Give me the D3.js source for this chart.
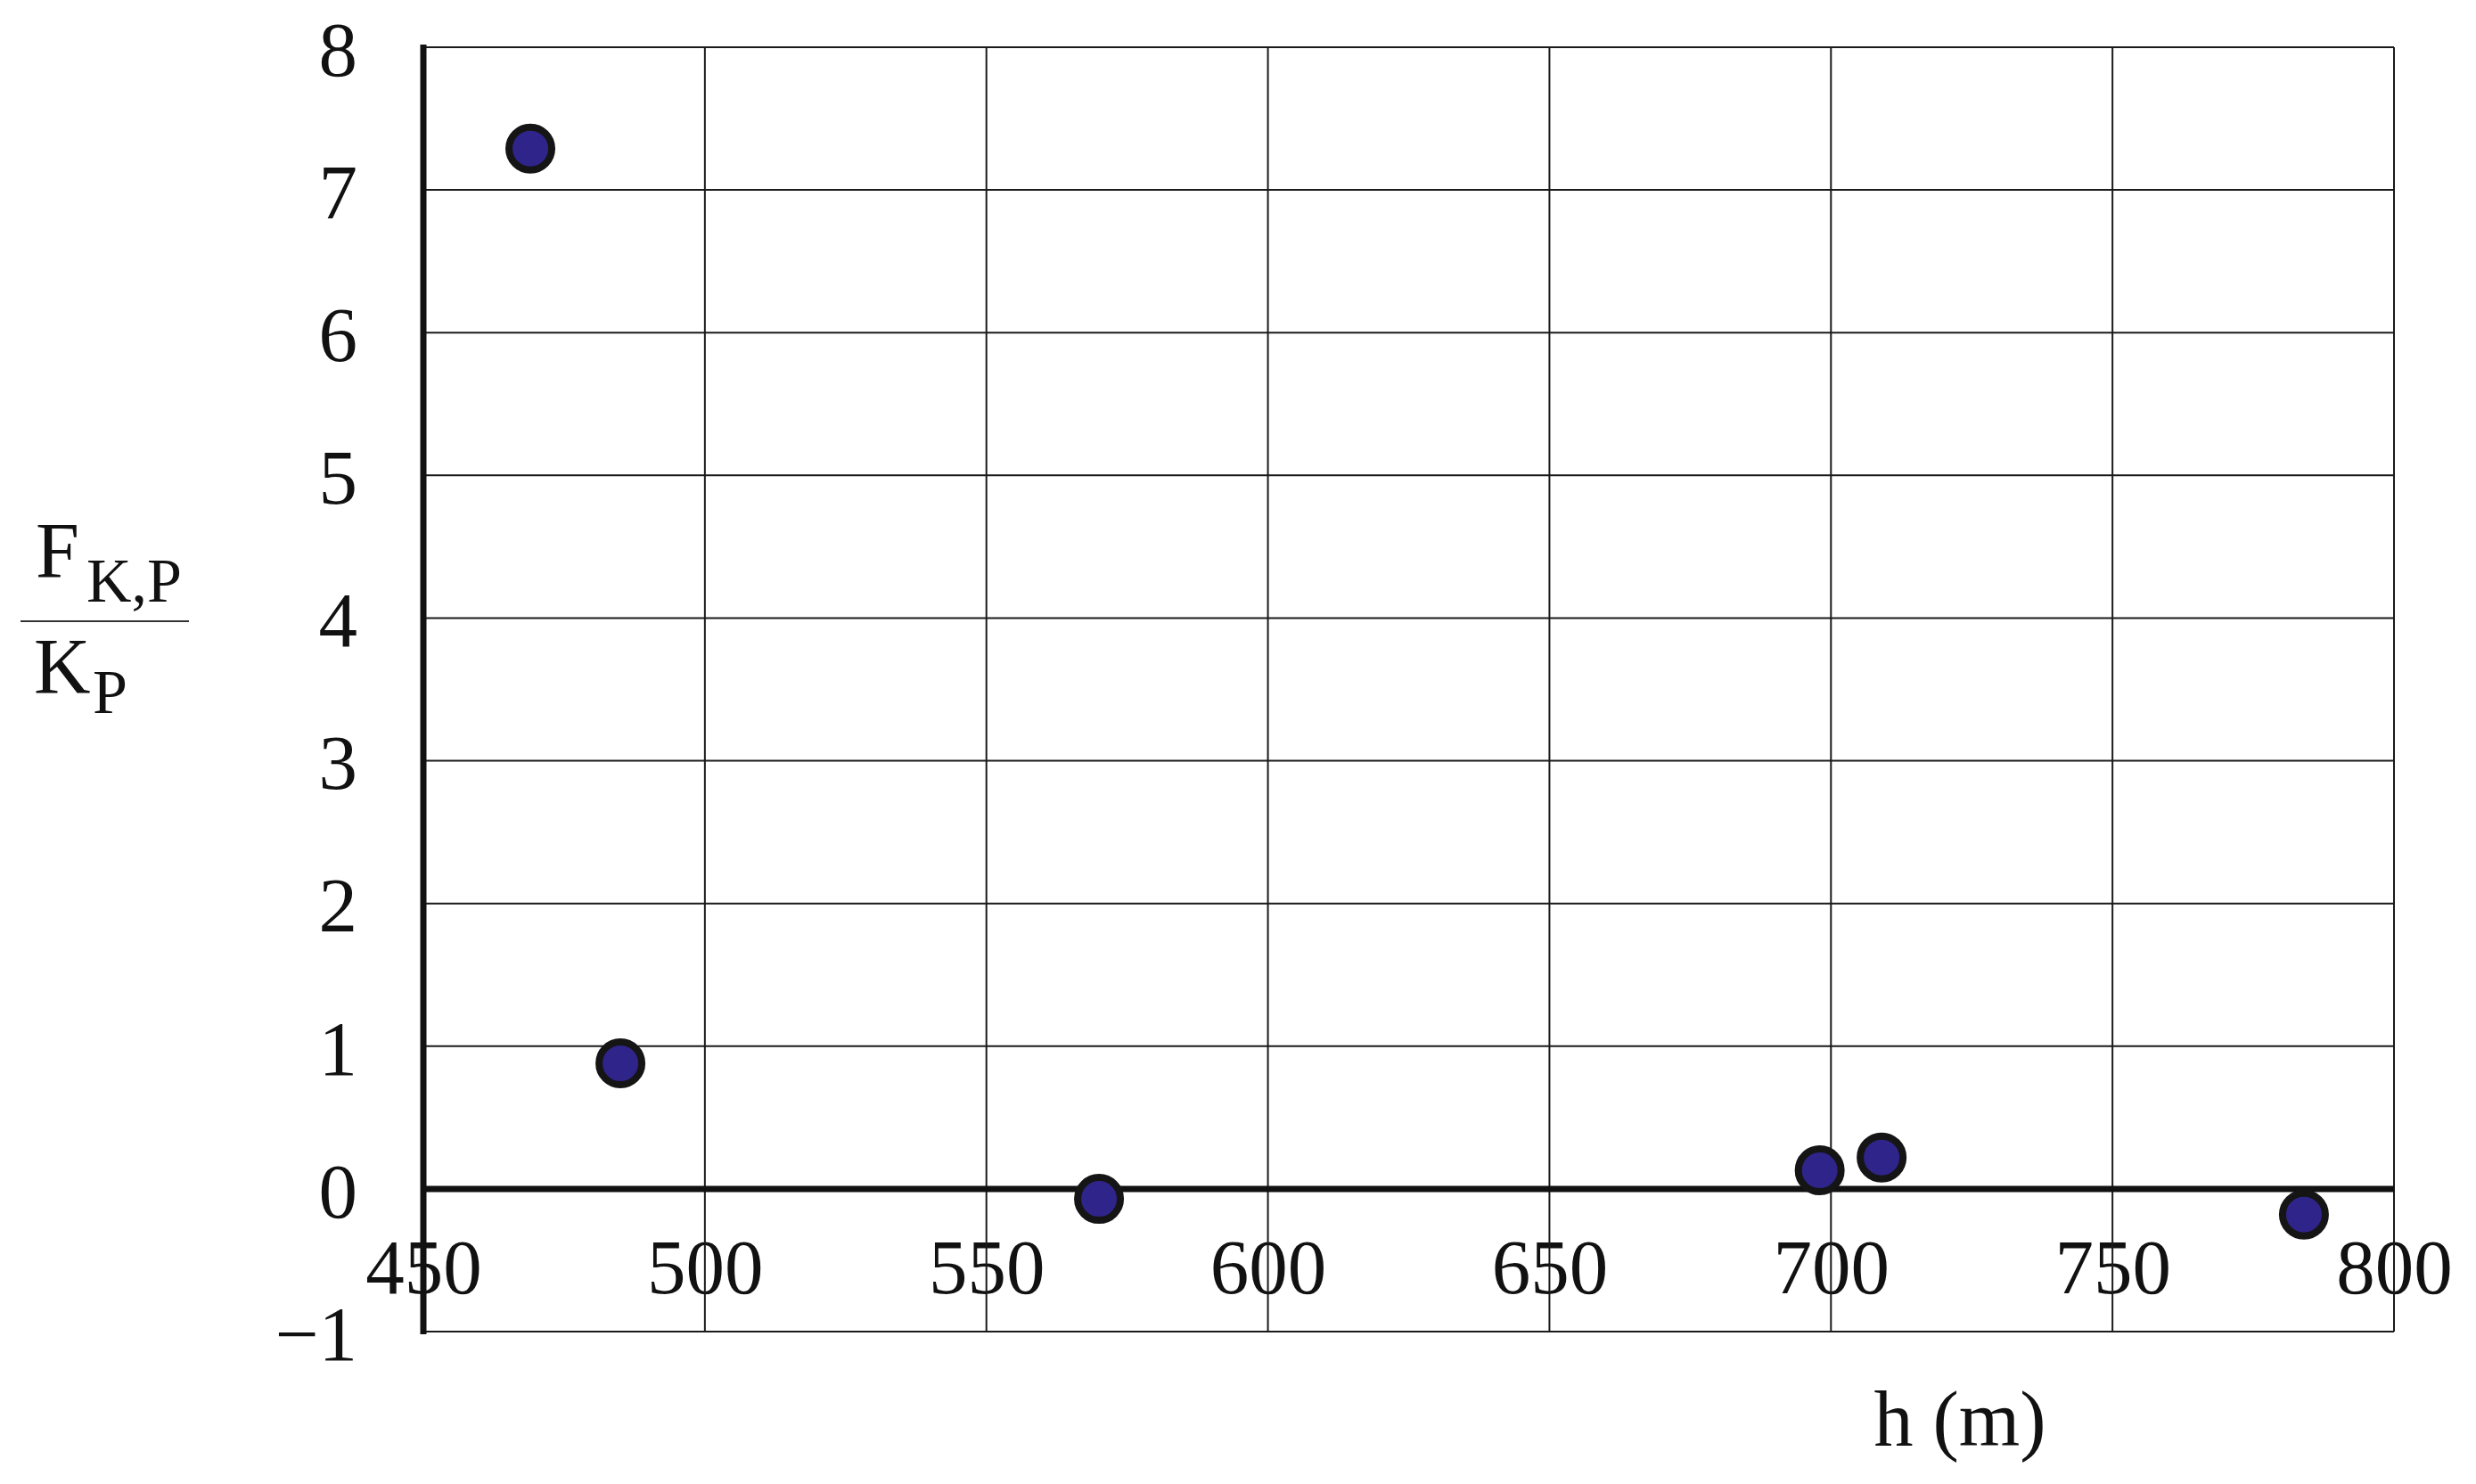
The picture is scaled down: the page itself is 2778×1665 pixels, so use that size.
<!DOCTYPE html>
<html>
<head>
<meta charset="utf-8">
<script src="https://cdn.jsdelivr.net/npm/d3@7"></script>
<style>
  body { margin: 0; background: #fff; }
  text { font-family: "Palatino Linotype", "Book Antiqua", Palatino, "Liberation Serif", "DejaVu Serif", serif; fill: #111; }
</style>
</head>
<body>
<div id="chart"></div>
<script>
// Data
const heights = [469, 485, 570, 698, 709, 784];          // h (m)
const ratios  = [7.29, 0.88, -0.07, 0.13, 0.22, -0.18];  // F_K,P / K_P
const xTicks = [450, 500, 550, 600, 650, 700, 750, 800];
const yTicks = [-1, 0, 1, 2, 3, 4, 5, 6, 7, 8];

const W = 2778, H = 1665;
const plot = { left: 475, right: 2686, top: 53, bottom: 1494 };

const svg = d3.select("#chart")
    .append("svg")
    .attr("width", W)
    .attr("height", H);

svg.append("rect").attr("width", W).attr("height", H).attr("fill", "#fff");

const x = d3.scaleLinear().domain([450, 800]).range([plot.left, plot.right]);
const y = d3.scaleLinear().domain([-1, 8]).range([plot.bottom, plot.top]);

// Tick labels first, grid lines are drawn over them
const xLabels = svg.append("g")
    .attr("transform", `translate(0,${y(0) + 117})`)
    .call(d3.axisBottom(x).tickValues(xTicks).tickSize(0).tickPadding(0));
xLabels.select(".domain").remove();
xLabels.selectAll("text")
    .attr("y", 0).attr("dy", 0)
    .style("font-size", "87px");

const yLabels = svg.append("g")
    .attr("transform", `translate(401,0)`)
    .call(d3.axisLeft(y).tickValues(yTicks).tickSize(0).tickPadding(0));
yLabels.select(".domain").remove();
yLabels.selectAll("text")
    .attr("dy", "0.36em")
    .style("font-size", "87px");

// Grid
svg.append("g").selectAll("line")
    .data(xTicks)
    .enter().append("line")
    .attr("x1", d => x(d)).attr("x2", d => x(d))
    .attr("y1", y(8)).attr("y2", y(-1))
    .attr("stroke", "#1a1a1a").attr("stroke-width", 2);

svg.append("g").selectAll("line")
    .data(yTicks)
    .enter().append("line")
    .attr("x1", x(450)).attr("x2", x(800))
    .attr("y1", d => y(d)).attr("y2", d => y(d))
    .attr("stroke", "#1a1a1a").attr("stroke-width", 2);

// Heavy zero line and y axis
svg.append("line")
    .attr("x1", x(450)).attr("x2", x(800))
    .attr("y1", y(0)).attr("y2", y(0))
    .attr("stroke", "#111").attr("stroke-width", 7);

svg.append("line")
    .attr("x1", x(450)).attr("x2", x(450))
    .attr("y1", y(8) - 3).attr("y2", y(-1) + 3)
    .attr("stroke", "#111").attr("stroke-width", 7);

// Points
svg.append("g").selectAll("circle")
    .data(heights.map((h, i) => ({ h, r: ratios[i] })))
    .enter().append("circle")
    .attr("cx", d => x(d.h))
    .attr("cy", d => y(d.r))
    .attr("r", 24)
    .attr("fill", "#2f248a")
    .attr("stroke", "#151515")
    .attr("stroke-width", 8);

// Axis titles
svg.append("text")
    .attr("x", 2199).attr("y", 1622)
    .attr("text-anchor", "middle")
    .style("font-size", "88px")
    .text("h (m)");

const yTitle = svg.append("g");
yTitle.append("text").attr("x", 40).attr("y", 647).style("font-size", "88px").text("F");
yTitle.append("text").attr("x", 97).attr("y", 675).style("font-size", "70px").text("K,P");
yTitle.append("line")
    .attr("x1", 23).attr("x2", 212).attr("y1", 697).attr("y2", 697)
    .attr("stroke", "#333").attr("stroke-width", 2);
yTitle.append("text").attr("x", 38).attr("y", 777).style("font-size", "88px").text("K");
yTitle.append("text").attr("x", 104).attr("y", 800).style("font-size", "70px").text("P");
</script>
</body>
</html>
